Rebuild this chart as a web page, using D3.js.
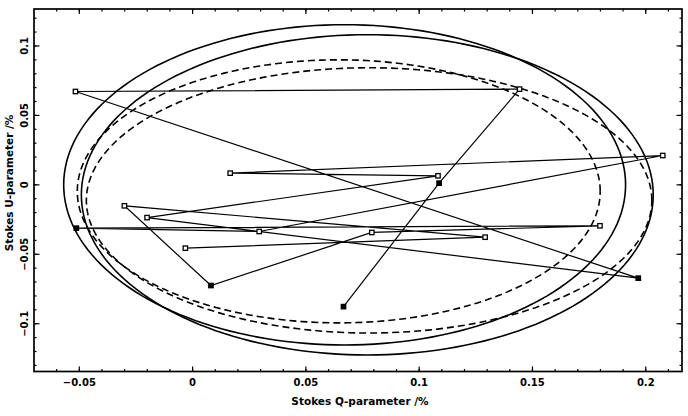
<!DOCTYPE html>
<html><head><meta charset="utf-8">
<script src="https://cdn.jsdelivr.net/npm/d3@7"></script>
<style>body{margin:0;background:#fff}svg{display:block}text{font-family:"DejaVu Sans",sans-serif;font-weight:bold;fill:#000}</style>
</head><body><svg id="c" width="688" height="416"></svg>
<script>
// Observation sequence (Stokes Q, U in %), in connection order
const qValues = [-0.0032, 0.1291, -0.0301, 0.0081, 0.0791, 0.1798, -0.0513, 0.0294, 0.2075, 0.0166, 0.1083, -0.0201, 0.1967, -0.0517, 0.1443, 0.1088, 0.0666];
const uValues = [-0.0456, -0.0377, -0.0151, -0.0725, -0.0343, -0.0295, -0.0312, -0.0336, 0.0211, 0.0084, 0.0065, -0.0236, -0.0672, 0.0672, 0.0689, 0.0012, -0.0877];
const filled  = [0, 0, 0, 1, 0, 0, 1, 0, 0, 0, 0, 0, 1, 0, 0, 1, 1];
// Model loops (ellipse parameters in data units)
const loopCx   = [0.0671, 0.0771, 0.0645, 0.0779];
const loopCy   = [0.0, -0.0072, -0.0047, -0.0112];
const loopRx   = [0.1240, 0.1262, 0.1154, 0.1248];
const loopRy   = [0.1153, 0.1153, 0.0947, 0.0955];
const loopDash = [false, false, true, true];
// Axis ticks
const xMajor = [-0.05, 0, 0.05, 0.1, 0.15, 0.2];
const xLabels = ["\u22120.05", "0", "0.05", "0.1", "0.15", "0.2"];
const yMajor = [-0.1, -0.05, 0, 0.05, 0.1];
const yLabels = ["\u22120.1", "\u22120.05", "0", "0.05", "0.1"];
const xMinor = d3.range(-7, 22).map(i => i / 100);
const yMinor = d3.range(-13, 13).map(i => i / 100);

const L = 34, R = 682, T = 9, B = 371.5;
const x = d3.scaleLinear().domain([-0.07, 0.216]).range([L, R]);
const y = d3.scaleLinear().domain([-0.1344, 0.1266]).range([B, T]);
const svg = d3.select("#c");

// ellipses
const ang = d3.range(0, 361, 2).map(a => a * Math.PI / 180);
const line = d3.line().x(d => x(d[0])).y(d => y(d[1]));
loopCx.forEach((cx, i) => {
  const pts = ang.map(a => [cx + loopRx[i] * Math.cos(a), loopCy[i] + loopRy[i] * Math.sin(a)]);
  svg.append("path").attr("d", line(pts)).attr("fill", "none").attr("stroke", "#000")
    .attr("stroke-width", 1.6).attr("stroke-dasharray", loopDash[i] ? "7,4" : null);
});

// data path
const pts = qValues.map((q, i) => [q, uValues[i]]);
svg.append("path").attr("d", line(pts)).attr("fill", "none").attr("stroke", "#000").attr("stroke-width", 1.2);
svg.selectAll("rect.m").data(pts).enter().append("rect").attr("class", "m")
  .attr("x", d => x(d[0]) - 2.2).attr("y", d => y(d[1]) - 2.2).attr("width", 4.4).attr("height", 4.4)
  .attr("fill", (d, i) => filled[i] ? "#000" : "#fff").attr("stroke", "#000").attr("stroke-width", 1.3);

// frame
svg.append("rect").attr("x", L).attr("y", T).attr("width", R - L).attr("height", B - T)
  .attr("fill", "none").attr("stroke", "#000").attr("stroke-width", 1.7);

// ticks on all sides, inward
function ticks(vals, len) {
  vals.forEach(v => {
    const px = x(v);
    if (px > L + 1 && px < R - 1) {
      svg.append("line").attr("x1", px).attr("x2", px).attr("y1", B).attr("y2", B - len).attr("stroke", "#000").attr("stroke-width", 1.2);
      svg.append("line").attr("x1", px).attr("x2", px).attr("y1", T).attr("y2", T + len).attr("stroke", "#000").attr("stroke-width", 1.2);
    }
  });
}
function yticks(vals, len) {
  vals.forEach(v => {
    const py = y(v);
    if (py > T + 1 && py < B - 1) {
      svg.append("line").attr("y1", py).attr("y2", py).attr("x1", L).attr("x2", L + len).attr("stroke", "#000").attr("stroke-width", 1.2);
      svg.append("line").attr("y1", py).attr("y2", py).attr("x1", R).attr("x2", R - len).attr("stroke", "#000").attr("stroke-width", 1.2);
    }
  });
}
ticks(xMinor, 2.5); ticks(xMajor, 5);
yticks(yMinor, 2.5); yticks(yMajor, 5.5);

// labels
xMajor.forEach((v, i) => svg.append("text").attr("x", x(v)).attr("y", 386).attr("text-anchor", "middle")
  .attr("font-size", 10).text(xLabels[i]));
yMajor.forEach((v, i) => svg.append("text").attr("transform", `translate(28,${y(v)}) rotate(-90)`)
  .attr("text-anchor", "middle").attr("font-size", 10).text(yLabels[i]));
svg.append("text").attr("x", (L + R) / 2 + 2).attr("y", 405).attr("text-anchor", "middle").attr("font-size", 10.5)
  .text("Stokes Q-parameter /%");
svg.append("text").attr("transform", `translate(13,183) rotate(-90)`).attr("text-anchor", "middle")
  .attr("font-size", 10.5).text("Stokes U-parameter /%");
</script></body></html>
